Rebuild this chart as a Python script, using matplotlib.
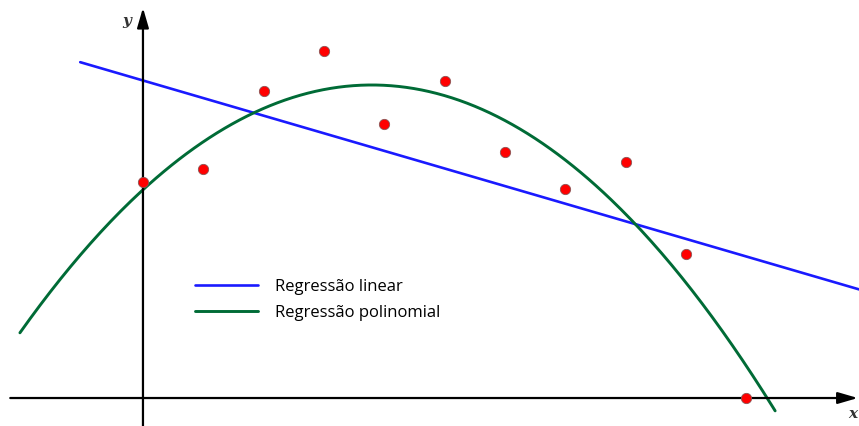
import matplotlib.pyplot as plt
import numpy as np

# data points
x_pts = [0, 1, 2, 3, 4, 5, 6, 7, 8, 9, 10]
y_pts = [3.58, 3.80, 5.09, 5.75, 4.54, 5.26, 4.08, 3.47, 3.91, 2.39, 0.0]

# ranges the fitted curves are drawn over
lin_range = [-1.04, 11.9]
poly_range = [-2.04, 10.48]

labels = ['Regressão linear', 'Regressão polinomial']

lin_coef = np.polyfit(x_pts, y_pts, 1)
poly_coef = np.polyfit(x_pts, y_pts, 2)

fig = plt.figure(figsize=(8.59, 4.26), dpi=100)
ax = fig.add_axes([0, 0, 1, 1])
ax.set_xlim(-2.37, 11.87)
ax.set_ylim(-0.464, 6.60)
ax.axis('off')

# axes with arrows
ax.annotate('', xy=(11.85, 0), xytext=(-2.2, 0),
            arrowprops=dict(arrowstyle='-|>,head_length=1.2,head_width=0.35',
                            color='black', lw=1.6, shrinkA=0, shrinkB=0))
ax.annotate('', xy=(0, 6.47), xytext=(0, -0.47),
            arrowprops=dict(arrowstyle='-|>,head_length=1.2,head_width=0.35',
                            color='black', lw=1.6, shrinkA=0, shrinkB=0))
ax.text(-0.27, 6.25, 'y', fontsize=11, style='italic', fontweight='bold',
        family='DejaVu Serif', color='#333333', ha='center', va='center')
ax.text(11.76, -0.26, 'x', fontsize=11, style='italic', fontweight='bold',
        family='DejaVu Serif', color='#333333', ha='center', va='center')

xl = np.linspace(*lin_range, 50)
xp = np.linspace(*poly_range, 300)
ax.plot(xl, np.polyval(lin_coef, xl), color='#1a1aff', lw=1.9,
        label=labels[0], solid_capstyle='round')
ax.plot(xp, np.polyval(poly_coef, xp), color='#006b36', lw=2.1,
        label=labels[1], solid_capstyle='round')

ax.scatter(x_pts, y_pts, s=55, color='#ff0000', edgecolors='#8a5555',
           linewidths=0.6, zorder=5, clip_on=False)

ax.legend(loc='upper left', bbox_to_anchor=(0.227, 0.345), frameon=False,
          prop={'family': 'Open Sans', 'size': 12}, handlelength=3.8,
          handletextpad=1.0, labelspacing=0.58, borderpad=0, borderaxespad=0)

fig.savefig('out.png', dpi=100)
